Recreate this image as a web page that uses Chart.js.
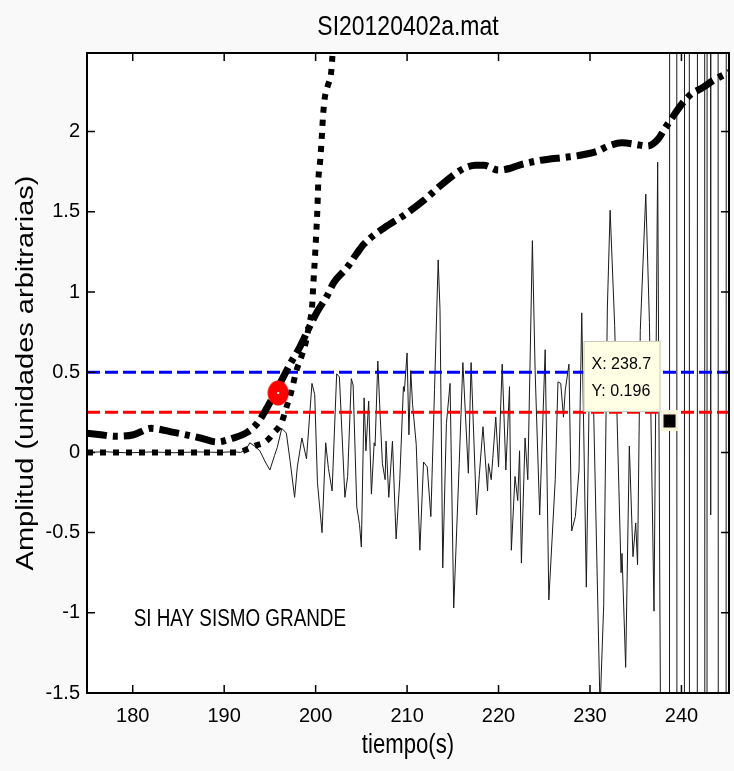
<!DOCTYPE html>
<html>
<head>
<meta charset="utf-8">
<script src="https://cdn.jsdelivr.net/npm/chart.js@4.4.1/dist/chart.umd.min.js"></script>
<style>
  html, body { margin: 0; padding: 0; background: #f9f9f9; }
  canvas { display: block; }
</style>
</head>
<body>
<canvas id="c" width="734" height="771"></canvas>
<script>
// axes
const xTicks = [180, 190, 200, 210, 220, 230, 240];
const yTicks = [-1.5, -1, -0.5, 0, 0.5, 1, 1.5, 2];
const xRange = [175, 245.2];
const yRange = [-1.5, 2.49];

// threshold levels
const blueLevel = 0.5;
const redLevel = 0.25;

// detection point and data tip
const trigger = [195.9, 0.37];
const dataTip = [238.7, 0.196];

// text note (data coords)
const noteText = 'SI HAY SISMO GRANDE';
const notePos = [180.1, -1.08];

// dotted curve
const dotT = [175, 180, 185, 190, 191.5, 192.5, 193.3, 194.6, 195.4, 196.3, 196.8, 197.3, 197.9, 198.4, 198.9, 199.3, 199.6, 199.75, 199.95, 200.2, 200.3, 200.5, 200.7, 200.8, 201.0, 201.3, 201.7, 201.8, 202.3];
const dotV = [0, 0, 0, 0, 0, 0.02, 0.04, 0.07, 0.12, 0.19, 0.28, 0.37, 0.51, 0.59, 0.68, 0.8, 0.9, 1.05, 1.24, 1.53, 1.7, 1.82, 1.99, 2.09, 2.21, 2.28, 2.37, 2.44, 2.9];

// dash-dot curve
const dashT = [175, 176.5, 178, 180.1, 182, 184.5, 187.4, 189.2, 191, 192.5, 193.6, 194.7, 196.1, 197.2, 198.3, 199.3, 200.2, 201.2, 202.0, 203.4, 204.5, 205.3, 207.5, 209.7, 211.8, 214, 216.2, 217.5, 218.4, 220, 221.2, 222.2, 224.5, 227.3, 228.7, 230.9, 232, 233.5, 235, 236.3, 237.4, 238.2, 238.9, 240.3, 241.2, 242.2, 243.5, 245.2];
const dashV = [0.12, 0.11, 0.1, 0.11, 0.15, 0.125, 0.09, 0.065, 0.09, 0.125, 0.18, 0.28, 0.43, 0.55, 0.66, 0.78, 0.88, 0.97, 1.06, 1.15, 1.24, 1.3, 1.4, 1.48, 1.57, 1.68, 1.77, 1.79, 1.79, 1.76, 1.77, 1.79, 1.82, 1.84, 1.85, 1.88, 1.91, 1.93, 1.92, 1.91, 1.95, 2.02, 2.08, 2.19, 2.24, 2.27, 2.32, 2.37];

// seismic trace
const waveT = [175, 177, 179.5, 182, 184.5, 187, 189.5, 191, 191.8, 192.4, 192.8, 193.3, 193.9, 194.5, 195, 195.5, 195.8, 196.3, 196.8, 197.2, 197.7, 198, 198.5, 199, 199.6, 199.9, 200.2, 200.7, 201.1, 201.4, 201.8, 202.3, 202.6, 203.2, 203.5, 203.9, 204.1, 204.5, 204.8, 205, 205.3, 205.5, 205.8, 206.1, 206.4, 206.5, 206.8, 207, 207.3, 207.6, 207.7, 208, 208.4, 208.8, 209.2, 209.6, 209.7, 210, 210.2, 210.4, 210.6, 211, 211.4, 211.8, 212.2, 212.6, 213, 213.4, 213.6, 213.9, 214.3, 214.7, 215.1, 215.7, 216.1, 216.7, 217, 217.6, 217.9, 218.3, 218.8, 218.9, 219.2, 219.7, 220, 220.4, 220.8, 221.2, 221.4, 221.8, 222.1, 222.3, 222.5, 222.9, 223.2, 223.7, 224, 224.5, 225.1, 225.5, 226.2, 226.5, 226.8, 227.1, 227.3, 227.7, 228, 228.4, 228.8, 229.1, 229.6, 229.9, 230.4, 231.1, 231.5, 231.9, 232.2, 232.7, 233.4, 233.5, 233.9, 234.3, 234.7, 235, 235.2, 235.5, 236.1, 236.5, 237, 237.4, 237.9, 238.6, 238.8, 239.4, 239.6, 240.23, 240.43, 240.77, 240.97, 241.64, 241.84, 242.45, 242.65, 242.75, 242.85, 243.1, 243.2, 243.35, 243.92, 244.12, 244.79, 244.99, 245.2];
const waveV = [0, 0.004, -0.003, 0.003, -0.002, 0.003, 0, 0.004, 0, 0.02, 0.06, 0.04, 0.01, -0.06, -0.11, -0.02, 0.03, 0.15, 0.12, -0.05, -0.28, -0.09, 0.09, -0.04, 0.43, 0.36, -0.19, -0.5, 0.06, -0.1, -0.24, 0.49, 0.47, -0.28, -0.15, 0.46, 0.42, -0.34, -0.45, -0.59, 0.34, 0.01, 0.32, -0.26, 0.06, 0.04, 0.57, 0.3, -0.07, -0.17, 0.07, -0.28, 0.07, -0.54, -0.17, 0.41, 0.38, 0.62, 0.11, 0.51, 0.3, 0.05, -0.61, -0.06, -0.09, -0.4, 0.39, 1.2, 0.89, -0.72, 0.18, 0.43, -0.97, -0.07, 0.56, -0.13, 0.56, -0.39, -0.14, 0.16, -0.24, -0.07, -0.17, 0.22, -0.09, 0.55, -0.11, 0.41, -0.61, -0.15, -0.3, 0.01, -0.69, 0.09, -0.17, 1.32, 0.51, -0.39, 0.64, -0.92, -0.17, 0.44, 0.43, 0.22, 0.39, 0.55, -0.49, -0.4, -0.11, 0.87, -0.84, 0.31, 0.26, -1.6, -0.95, 0.9, 1.51, 0.79, -0.75, -0.63, -1.34, 0.04, -0.65, -0.44, -0.7, 0.76, 1.61, 0.81, -0.99, 1.81, -3.8, -30, 30, 30, -30, -30, 30, 30, -30, -30, 30, 30, -30, -30, 30, 30, -0.39, 30, 30, -30, -30, 30, 30];

const pts = (ts, vs) => ts.map((t, i) => ({ x: t, y: vs[i] }));

const tickFont = { family: "'Liberation Sans Narrow', 'Arial Narrow', 'Liberation Sans', sans-serif", size: 20 };

// red ellipse for the trigger point
const redDot = document.createElement('canvas');
redDot.width = 22; redDot.height = 26;
(function () {
  const g = redDot.getContext('2d');
  g.fillStyle = '#ff0000';
  g.beginPath();
  g.ellipse(11, 13, 10.5, 12.5, 0, 0, Math.PI * 2);
  g.fill();
  g.fillStyle = '#fff';
  g.fillRect(10, 12, 2, 2);
})();

// black square for the data tip
const tipMark = document.createElement('canvas');
tipMark.width = 17; tipMark.height = 21;
(function () {
  const g = tipMark.getContext('2d');
  g.fillStyle = '#f8f5d8';
  g.fillRect(0, 0, 17, 21);
  g.fillStyle = '#000';
  g.fillRect(2.5, 4, 12, 13);
})();

function squashText(ctx, text, x, y, size, align, rotate) {
  ctx.save();
  ctx.translate(x, y);
  ctx.scale(0.82, 1);
  if (rotate) ctx.rotate(-Math.PI / 2);
  ctx.font = size + 'px "Liberation Sans", Arial, sans-serif';
  ctx.textAlign = align;
  ctx.textBaseline = 'alphabetic';
  ctx.fillStyle = '#000';
  ctx.fillText(text, 0, 0);
  ctx.restore();
}

const frame = {
  id: 'frame',
  beforeDraw(chart) {
    const { ctx, chartArea: a } = chart;
    ctx.save();
    ctx.fillStyle = '#f9f9f9';
    ctx.fillRect(0, 0, chart.width, chart.height);
    ctx.fillStyle = '#fff';
    ctx.fillRect(a.left, a.top, a.right - a.left, a.bottom - a.top);
    ctx.restore();
  },
  afterDraw(chart) {
    const { ctx, chartArea: a, scales: { x, y } } = chart;
    ctx.save();
    // inward ticks
    ctx.strokeStyle = '#000';
    ctx.lineWidth = 1.5;
    ctx.beginPath();
    xTicks.forEach(v => {
      const px = x.getPixelForValue(v);
      ctx.moveTo(px, a.bottom); ctx.lineTo(px, a.bottom - 8);
      ctx.moveTo(px, a.top); ctx.lineTo(px, a.top + 8);
    });
    yTicks.forEach(v => {
      const py = y.getPixelForValue(v);
      ctx.moveTo(a.left, py); ctx.lineTo(a.left + 8, py);
      ctx.moveTo(a.right, py); ctx.lineTo(a.right - 8, py);
    });
    ctx.stroke();
    ctx.lineWidth = 2;
    ctx.strokeRect(a.left, a.top, a.right - a.left, a.bottom - a.top);

    const cx = (a.left + a.right) / 2;
    squashText(ctx, 'SI20120402a.mat', cx, 35, 28, 'center');
    squashText(ctx, 'tiempo(s)', cx, 753, 27, 'center');
    squashText(ctx, 'Amplitud (unidades arbitrarias)', 33, 373, 29, 'center', true);
    squashText(ctx, noteText, x.getPixelForValue(notePos[0]), y.getPixelForValue(notePos[1]), 23, 'left');

    // data tip box
    const mx = x.getPixelForValue(dataTip[0]);
    const my = y.getPixelForValue(dataTip[1]);
    const bw = 77, bh = 71;
    const bx = mx - 9 - bw, by = my - 9 - bh;
    ctx.fillStyle = '#ffffe6';
    ctx.fillRect(bx, by, bw, bh);
    ctx.strokeStyle = '#c8c8b8';
    ctx.lineWidth = 1;
    ctx.strokeRect(bx + 0.5, by + 0.5, bw - 1, bh - 1);
    ctx.fillStyle = '#000';
    ctx.font = '16px "Liberation Sans", Arial, sans-serif';
    ctx.textAlign = 'left';
    ctx.textBaseline = 'middle';
    ctx.fillText('X: ' + dataTip[0], bx + 8, by + 24);
    ctx.fillText('Y: ' + dataTip[1], bx + 8, by + 51);
    ctx.restore();
  }
};

new Chart(document.getElementById('c'), {
  type: 'line',
  data: {
    datasets: [
      {
        label: 'tip',
        data: [{ x: dataTip[0], y: dataTip[1] }],
        showLine: false,
        pointStyle: tipMark,
        order: 0
      },
      {
        label: 'trigger',
        data: [{ x: trigger[0], y: trigger[1] }],
        showLine: false,
        pointStyle: redDot,
        order: 1
      },
      {
        label: 'dash-dot',
        data: pts(dashT, dashV),
        borderColor: '#000',
        borderWidth: 7,
        borderDash: [20, 6, 5, 6],
        cubicInterpolationMode: 'monotone',
        pointRadius: 0,
        order: 2
      },
      {
        label: 'dotted',
        data: pts(dotT, dotV),
        borderColor: '#000',
        borderWidth: 6,
        borderDash: [6, 7],
        cubicInterpolationMode: 'monotone',
        pointRadius: 0,
        order: 3
      },
      {
        label: 'blue',
        data: pts(xRange, [blueLevel, blueLevel]),
        borderColor: '#0000ff',
        borderWidth: 3,
        borderDash: [13, 5],
        pointRadius: 0,
        order: 4
      },
      {
        label: 'red',
        data: pts(xRange, [redLevel, redLevel]),
        borderColor: '#ff0000',
        borderWidth: 3,
        borderDash: [13, 5],
        pointRadius: 0,
        order: 4
      },
      {
        label: 'trace',
        data: pts(waveT, waveV),
        borderColor: '#1a1a1a',
        borderWidth: 1,
        tension: 0,
        pointRadius: 0,
        order: 5
      }
    ]
  },
  options: {
    responsive: false,
    animation: false,
    events: [],
    layout: { padding: { top: 53, right: 2, left: 0, bottom: 0 } },
    plugins: { legend: { display: false }, tooltip: { enabled: false }, title: { display: false } },
    scales: {
      x: {
        type: 'linear',
        min: xRange[0],
        max: xRange[1],
        afterBuildTicks: s => { s.ticks = xTicks.map(v => ({ value: v })); },
        afterFit: s => { s.height = 78; },
        grid: { display: false, drawTicks: false },
        border: { display: false },
        ticks: { autoSkip: false, maxRotation: 0, padding: 11, color: '#000', font: tickFont, callback: v => String(v) }
      },
      y: {
        type: 'linear',
        min: yRange[0],
        max: yRange[1],
        afterBuildTicks: s => { s.ticks = yTicks.map(v => ({ value: v })); },
        afterFit: s => { s.width = 87; },
        grid: { display: false, drawTicks: false },
        border: { display: false },
        ticks: { autoSkip: false, padding: 7, color: '#000', font: tickFont, callback: v => String(v) }
      }
    }
  },
  plugins: [frame]
});
</script>
</body>
</html>
